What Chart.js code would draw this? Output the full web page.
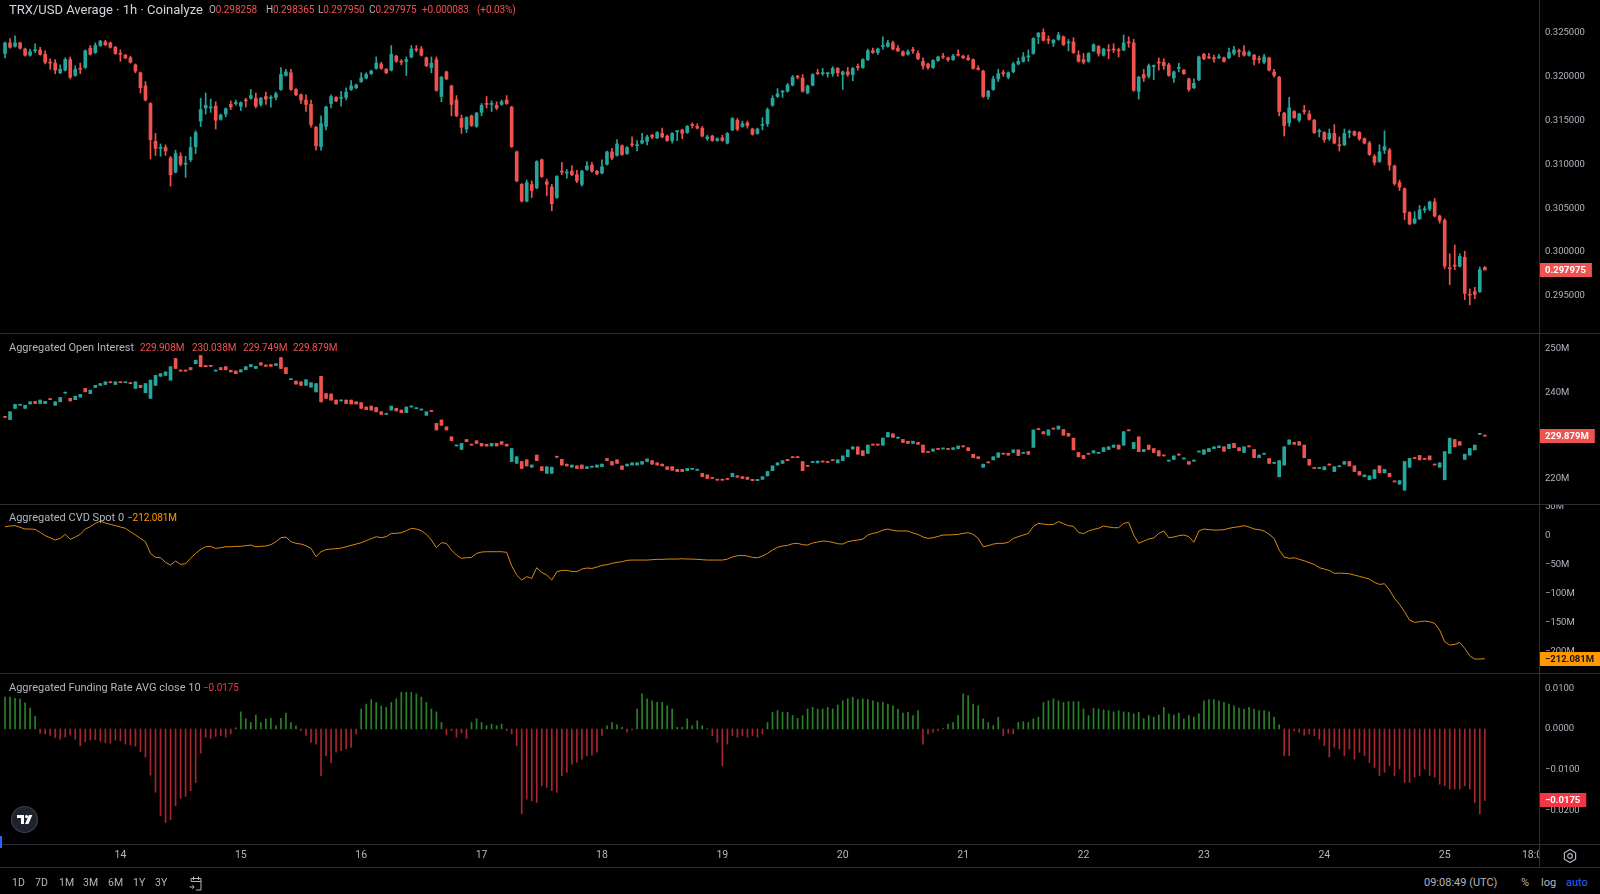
<!DOCTYPE html>
<html>
<head>
<meta charset="utf-8">
<script src="https://cdn.jsdelivr.net/npm/chart.js@4.4.1/dist/chart.umd.min.js"></script>
<style>
html,body{margin:0;padding:0;background:#000;}
#root{position:relative;width:1600px;height:894px;background:#000;overflow:hidden;font-family:Roboto,"Liberation Sans",sans-serif;}
.pane{position:absolute;left:0;width:1600px;}
.pane canvas{display:block;}
.hl{position:absolute;left:0;width:1600px;height:1px;background:#2b2e36;z-index:5;}
.vl{position:absolute;top:0;left:1539px;width:1px;height:867px;background:#2b2e36;z-index:5;}
.t{position:absolute;white-space:nowrap;transform:translateY(-50%);z-index:6;line-height:1.2;}
.n{font-size:10px;letter-spacing:-0.1px;}
.g{color:#b2b5be;}
.r{color:#ef5350;}
</style>
</head>
<body>
<div id="root">
  <div class="pane" style="top:0;height:334px"><canvas id="cPrice"></canvas></div>
  <div class="pane" style="top:334px;height:171px"><canvas id="cOI"></canvas></div>
  <div class="pane" style="top:505px;height:169px"><canvas id="cCVD"></canvas></div>
  <div class="pane" style="top:674px;height:193px"><canvas id="cFund"></canvas></div>

  <div class="hl" style="top:333px"></div>
  <div class="hl" style="top:504px"></div>
  <div class="hl" style="top:673px"></div>
  <div class="hl" style="top:844px"></div>
  <div class="hl" style="top:867px"></div>
  <div class="vl"></div>

  <!-- header of price pane -->
  <div class="t" style="left:9px;top:10px;font-size:13px;color:#d1d4dc">TRX/USD Average · 1h · Coinalyze</div>
  <div class="t n" style="left:209px;top:10px"><span class="g">O</span><span class="r">0.298258</span></div>
  <div class="t n" style="left:266px;top:10px"><span class="g">H</span><span class="r">0.298365</span></div>
  <div class="t n" style="left:318px;top:10px"><span class="g">L</span><span class="r">0.297950</span></div>
  <div class="t n" style="left:369px;top:10px"><span class="g">C</span><span class="r">0.297975</span></div>
  <div class="t n r" style="left:422px;top:10px">+0.000083</div>
  <div class="t n r" style="left:477px;top:10px">(+0.03%)</div>

  <div class="t g" style="left:9px;top:348px;font-size:11px">Aggregated Open Interest</div>
  <div class="t n r" style="left:140px;top:348px">229.908M</div>
  <div class="t n r" style="left:192px;top:348px">230.038M</div>
  <div class="t n r" style="left:243px;top:348px">229.749M</div>
  <div class="t n r" style="left:293px;top:348px">229.879M</div>

  <div class="t g" style="left:9px;top:518px;font-size:11px">Aggregated CVD Spot 0</div>
  <div class="t n" style="left:127px;top:518px;color:#ff9800">−212.081M</div>

  <div class="t g" style="left:9px;top:688px;font-size:11px">Aggregated Funding Rate AVG close 10</div>
  <div class="t n" style="left:203px;top:688px;color:#f23645">−0.0175</div>

  <!-- TradingView badge -->
  <svg style="position:absolute;left:10px;top:805px;z-index:6" width="29" height="29" viewBox="0 0 29 29">
    <circle cx="14.5" cy="14.5" r="13" fill="#1e222d" stroke="#3a3e48" stroke-width="1.2"/>
    <path d="M7 10 h7 v9 h-3 v-6 h-4 z" fill="#fff"/>
    <circle cx="16.6" cy="11.6" r="1.6" fill="#fff"/>
    <path d="M19 10 h3.4 l-4 9 h-3.4 z" fill="#fff"/>
  </svg>
  <div style="position:absolute;left:0;top:836px;width:2px;height:12px;background:#2962ff;z-index:6"></div>

  <!-- axis corner with settings icon (covers overflow of last time label) -->
  <div style="position:absolute;left:1540px;top:845px;width:60px;height:22px;background:#000;z-index:7"></div>
  <svg style="position:absolute;left:1562px;top:848px;z-index:8" width="16" height="16" viewBox="0 0 16 16">
    <path d="M8 1.5 L13.6 4.75 L13.6 11.25 L8 14.5 L2.4 11.25 L2.4 4.75 Z" fill="none" stroke="#b2b5be" stroke-width="1.2"/>
    <circle cx="8" cy="8" r="2.3" fill="none" stroke="#b2b5be" stroke-width="1.2"/>
  </svg>

  <!-- bottom toolbar -->
  <div class="t g" style="left:12px;top:883px;font-size:10.5px">1D</div>
  <div class="t g" style="left:35px;top:883px;font-size:10.5px">7D</div>
  <div class="t g" style="left:59px;top:883px;font-size:10.5px">1M</div>
  <div class="t g" style="left:83px;top:883px;font-size:10.5px">3M</div>
  <div class="t g" style="left:108px;top:883px;font-size:10.5px">6M</div>
  <div class="t g" style="left:133px;top:883px;font-size:10.5px">1Y</div>
  <div class="t g" style="left:155px;top:883px;font-size:10.5px">3Y</div>
  <svg style="position:absolute;left:188px;top:875px;z-index:6" width="16" height="17" viewBox="0 0 16 17">
    <path d="M3 6 V3.5 H13 V15 H8" fill="none" stroke="#b2b5be" stroke-width="1"/>
    <path d="M3 6.5 H13" stroke="#b2b5be" stroke-width="1"/>
    <path d="M5.5 1.5 V5 M10.5 1.5 V5" stroke="#b2b5be" stroke-width="1"/>
    <path d="M1.5 12 H6 M4.3 10.2 L6.2 12 L4.3 13.8" fill="none" stroke="#b2b5be" stroke-width="1"/>
  </svg>
  <div class="t g" style="left:1424px;top:883px;font-size:11px">09:08:49 (UTC)</div>
  <div class="t g" style="left:1521px;top:883px;font-size:11px">%</div>
  <div class="t g" style="left:1541px;top:883px;font-size:11px">log</div>
  <div class="t" style="left:1566px;top:883px;font-size:11px;color:#2962ff">auto</div>
</div>

<script>
// ---------- time axis (hours counted from day 13, 00:00) ----------
const FIRST_HOUR = 1;                 // first candle: 13th 01:00
const X_MAX_HOUR = 306.8;
const dayTickHours  = [24,48,72,96,120,144,168,192,216,240,264,288,306];
const dayTickLabels = ['14','15','16','17','18','19','20','21','22','23','24','25','18:00'];

// ---------- TRX/USD 1h candles ----------
const priceOpen = [
.3226,.3238,.3234,.3238,.3231,.3224,.3229,.3230,.3225,.3216,
.3215,.3204,.3207,.3219,.3201,.3209,.3210,.3232,.3227,.3235,
.3239,.3238,.3233,.3226,.3224,.3221,.3213,.3204,.3189,.3169,
.3126,.3118,.3119,.3107,.3091,.3109,.3100,.3105,.3120,.3149,
.3164,.3164,.3166,.3151,.3157,.3168,.3169,.3166,.3173,.3175,
.3175,.3168,.3177,.3175,.3176,.3185,.3201,.3204,.3185,.3179,
.3173,.3168,.3142,.3120,.3143,.3169,.3176,.3175,.3176,.3185,
.3187,.3194,.3198,.3203,.3209,.3214,.3208,.3207,.3223,.3217,
.3217,.3222,.3231,.3231,.3221,.3210,.3219,.3177,.3205,.3189,
.3173,.3152,.3140,.3155,.3143,.3159,.3169,.3168,.3167,.3168,
.3173,.3165,.3114,.3077,.3058,.3077,.3073,.3105,.3080,.3074,
.3062,.3092,.3090,.3092,.3088,.3077,.3094,.3099,.3092,.3090,
.3100,.3114,.3110,.3121,.3112,.3123,.3121,.3124,.3126,.3133,
.3130,.3135,.3132,.3127,.3137,.3139,.3136,.3145,.3143,.3141,
.3129,.3132,.3127,.3130,.3124,.3139,.3150,.3143,.3147,.3140,
.3135,.3144,.3146,.3167,.3177,.3182,.3183,.3190,.3200,.3198,
.3181,.3190,.3204,.3203,.3203,.3203,.3209,.3202,.3205,.3202,
.3211,.3210,.3219,.3229,.3227,.3234,.3234,.3238,.3232,.3228,
.3225,.3230,.3226,.3217,.3214,.3210,.3218,.3223,.3221,.3219,
.3225,.3223,.3221,.3219,.3209,.3206,.3177,.3185,.3197,.3204,
.3199,.3205,.3214,.3217,.3222,.3226,.3245,.3250,.3242,.3238,
.3242,.3245,.3238,.3239,.3224,.3219,.3217,.3229,.3234,.3224,
.3230,.3231,.3230,.3230,.3239,.3238,.3183,.3202,.3200,.3211,
.3216,.3216,.3213,.3198,.3209,.3207,.3197,.3187,.3196,.3225,
.3222,.3221,.3221,.3221,.3221,.3226,.3229,.3228,.3224,.3224,
.3220,.3216,.3221,.3205,.3199,.3158,.3147,.3160,.3150,.3161,
.3157,.3150,.3137,.3136,.3129,.3135,.3122,.3122,.3136,.3137,
.3136,.3129,.3124,.3109,.3103,.3116,.3116,.3098,.3079,.3072,
.3045,.3033,.3038,.3048,.3049,.3057,.3041,.3036,.2982,.2985,
.2984,.2994,.2952,.2955,.2955,.298258];
const priceClose = [
.3238,.3233,.3238,.3232,.3224,.3228,.3229,.3225,.3216,.3215,
.3207,.3208,.3219,.3199,.3208,.3208,.3229,.3225,.3235,.3240,
.3236,.3233,.3226,.3225,.3221,.3216,.3206,.3187,.3173,.3128,
.3118,.3118,.3115,.3088,.3112,.3100,.3100,.3119,.3136,.3162,
.3167,.3164,.3150,.3156,.3163,.3165,.3169,.3170,.3172,.3178,
.3166,.3175,.3174,.3175,.3180,.3202,.3205,.3185,.3179,.3173,
.3168,.3145,.3121,.3146,.3165,.3177,.3172,.3175,.3182,.3189,
.3190,.3198,.3202,.3206,.3215,.3209,.3204,.3225,.3217,.3216,
.3219,.3231,.3230,.3224,.3212,.3215,.3184,.3199,.3197,.3168,
.3155,.3142,.3153,.3144,.3158,.3167,.3168,.3168,.3164,.3171,
.3169,.3120,.3081,.3058,.3079,.3070,.3103,.3086,.3077,.3055,
.3086,.3091,.3090,.3088,.3081,.3092,.3098,.3092,.3089,.3097,
.3114,.3107,.3123,.3111,.3119,.3122,.3121,.3127,.3131,.3131,
.3136,.3131,.3127,.3135,.3137,.3135,.3143,.3144,.3141,.3132,
.3131,.3127,.3129,.3127,.3135,.3152,.3140,.3146,.3144,.3134,
.3140,.3144,.3162,.3175,.3180,.3182,.3190,.3199,.3199,.3183,
.3189,.3202,.3203,.3203,.3203,.3209,.3204,.3205,.3202,.3209,
.3210,.3219,.3229,.3227,.3231,.3234,.3238,.3231,.3229,.3224,
.3228,.3229,.3220,.3212,.3210,.3218,.3222,.3222,.3219,.3223,
.3224,.3221,.3219,.3209,.3208,.3177,.3183,.3197,.3203,.3203,
.3204,.3214,.3217,.3222,.3222,.3243,.3249,.3241,.3241,.3241,
.3247,.3236,.3238,.3227,.3217,.3216,.3226,.3236,.3226,.3231,
.3229,.3230,.3229,.3238,.3238,.3184,.3199,.3198,.3212,.3211,
.3215,.3212,.3201,.3205,.3209,.3203,.3185,.3192,.3222,.3220,
.3221,.3220,.3222,.3217,.3227,.3230,.3228,.3224,.3227,.3219,
.3219,.3222,.3207,.3201,.3160,.3144,.3164,.3153,.3157,.3160,
.3151,.3136,.3137,.3128,.3135,.3124,.3121,.3135,.3136,.3133,
.3129,.3124,.3111,.3102,.3114,.3120,.3099,.3078,.3074,.3045,
.3032,.3038,.3048,.3048,.3057,.3041,.3036,.2984,.2981,.2984,
.2995,.2953,.2951,.2952,.2980,.297975];
// wick length above / below the body, in units of 0.0001
const WICK_UNIT = 0.0001;
const priceWickUp = [
1,5,8,1,1,3,8,3,4,4, 4,5,2,3,4,6,1,3,3,1, 2,1,1,4,1,2,1,1,5,1, 9,5,3,2,4,4,9,12,2,13,
14,10,5,1,1,4,4,1,2,7, 6,1,5,3,2,8,3,4,1,1, 6,5,1,9,1,2,1,8,5,6, 1,6,2,1,7,2,1,10,1,2,
3,4,4,3,1,7,3,1,1,1, 5,4,1,1,1,2,8,4,4,2, 5,1,1,1,3,4,1,1,3,3, 1,10,4,6,5,1,5,3,1,8,
1,4,5,1,1,8,6,8,2,1, 1,6,1,1,1,1,1,2,3,2, 2,1,1,3,1,1,2,3,2,1, 1,9,2,3,6,2,2,2,1,4,
1,1,4,6,1,2,1,1,5,1, 3,1,2,3,1,11,3,2,3,1, 2,3,3,4,1,1,1,3,1,2, 5,1,3,1,3,1,1,3,5,3,
1,2,4,5,8,1,1,4,4,1, 3,1,4,5,5,7,1,1,1,1, 6,6,2,9,6,4,1,6,2,2, 5,4,2,1,6,1,1,5,1,1,
4,3,3,1,5,4,2,7,2,1, 3,3,1,3,1,1,12,1,1,6, 4,1,3,1,5,10,9,5,3,1, 1,1,2,2,8,18,2,1,3,1,
1,8,5,4,1,4,1,2,16,23, 3,7,6,5,3,1.07];
const priceWickDown = [
5,1,1,1,1,1,2,1,2,7, 4,1,1,2,1,5,1,1,1,1, 1,1,1,8,1,1,2,6,1,22, 8,9,5,13,1,2,15,2,8,6,
7,5,10,1,3,3,2,5,7,1, 2,2,6,10,3,1,1,1,1,4, 8,3,5,4,4,5,1,9,3,1, 1,1,1,1,1,1,1,1,1,3,
16,1,2,1,1,6,1,6,1,13, 1,7,4,1,1,4,4,8,2,1, 1,1,1,1,1,8,1,1,13,8, 1,3,6,1,2,2,1,1,1,1,
1,2,1,1,1,2,6,1,4,2, 1,1,1,3,10,6,1,3,1,1, 2,1,1,1,1,1,2,1,3,1, 1,5,3,1,1,6,1,1,2,1,
1,1,1,2,4,3,4,17,2,7, 3,1,1,1,2,3,1,1,1,1, 1,3,1,4,2,1,1,2,2,1, 1,1,1,1,1,1,3,1,3,3,
2,1,1,1,5,1,8,1,4,4, 1,1,9,1,1,2,1,1,3,1, 9,3,7,1,5,1,9,4,2,15, 8,4,1,5,4,1,2,1,1,1,
1,4,1,1,1,2,6,1,1,6, 4,2,1,2,5,12,4,1,2,3, 1,1,6,3,2,1,6,1,6,1, 2,1,1,3,1,4,6,2,4,8,
1,1,1,3,2,1,3,3,18,4, 1,7,11,5,1,0.25];
const priceTicks = [0.295,0.300,0.305,0.310,0.315,0.320,0.325];

// ---------- Aggregated open interest (M), 1h candles ----------
const oiOpen = [
234.3,233.7,236.3,237.0,236.3,237.3,237.9,237.4,237.4,238.4,
237.0,237.8,239.8,238.6,238.3,238.9,240.9,239.7,241.1,241.6,
241.8,242.3,241.8,242.3,242.2,242.1,240.9,241.6,239.9,238.6,
241.6,243.7,243.9,242.8,247.8,245.0,245.0,245.7,246.6,248.5,
246.2,246.1,244.9,245.7,245.9,245.1,244.9,244.7,245.2,245.9,
245.5,246.8,246.3,246.4,246.2,248.0,245.7,242.9,242.6,242.4,
241.6,241.2,240.1,243.7,239.7,239.6,238.2,238.0,238.2,238.2,
237.8,237.6,236.6,236.8,236.5,235.5,234.9,235.9,236.3,235.9,
235.3,236.6,236.2,235.9,234.7,235.7,232.8,233.6,232.0,229.7,
227.6,226.8,229.1,227.9,228.8,228.2,228.0,227.6,228.2,228.6,
228.0,224.0,223.6,224.0,224.4,222.7,225.5,222.8,221.3,221.3,
225.1,224.5,223.4,222.7,223.0,223.2,222.4,222.7,222.7,222.8,
224.7,224.0,224.4,223.0,223.0,223.2,223.2,223.4,224.0,224.2,
223.7,223.4,222.8,222.8,222.2,222.2,221.9,222.2,222.0,221.3,
220.9,220.2,219.8,219.8,220.0,220.5,220.7,220.5,220.4,219.9,
219.6,219.9,220.7,221.9,223.2,223.6,224.5,225.0,225.0,224.0,
223.0,223.8,223.7,224.0,223.9,224.3,223.7,224.2,225.1,226.9,
227.4,226.5,225.9,227.9,227.9,227.8,229.7,230.4,229.4,229.1,
228.7,228.2,228.4,227.8,226.2,226.4,226.9,226.9,226.9,226.8,
227.0,227.5,227.2,225.7,225.1,222.7,223.8,224.4,225.0,225.8,
225.9,226.1,226.7,225.9,226.3,227.3,231.5,230.9,230.1,231.6,
231.5,231.4,230.5,229.4,226.1,225.4,225.8,226.0,225.9,226.3,
226.8,227.3,227.8,227.8,231.2,227.0,229.7,226.3,227.8,227.0,
226.5,225.4,224.1,224.5,225.6,224.6,224.0,224.1,226.2,225.7,
226.3,227.0,227.2,227.4,227.0,228.2,227.2,226.1,227.5,226.8,
224.9,225.7,224.7,223.6,220.5,223.2,228.0,228.4,228.6,227.8,
224.5,222.5,222.4,222.1,223.3,221.7,222.8,223.4,224.0,223.0,
221.7,220.5,219.8,220.1,223.0,221.4,221.3,219.4,218.8,217.4,
222.7,224.8,225.4,224.6,225.3,223.3,222.7,219.8,225.9,229.1,
228.6,224.5,225.5,226.7,230.3,229.908];
const oiClose = [
234.2,235.5,237.2,237.0,237.0,237.8,237.4,238.2,237.9,238.3,
237.8,238.8,239.9,238.0,239.1,239.5,240.1,240.5,241.6,242.0,
242.4,242.2,242.4,242.2,242.2,242.0,242.4,241.1,242.0,242.8,
243.9,244.3,244.7,245.9,245.5,244.9,244.9,245.2,247.4,245.9,
245.9,246.0,244.9,245.2,245.2,244.7,244.3,245.2,245.9,246.4,
246.0,246.3,246.0,246.0,246.6,245.5,244.3,242.9,241.9,241.6,
242.9,242.2,242.0,237.8,238.6,238.2,237.3,238.0,237.4,237.3,
237.3,236.3,236.0,235.9,235.5,234.9,235.0,236.8,235.7,235.3,
236.6,236.7,236.3,235.9,235.5,235.6,231.3,232.4,231.3,228.8,
227.6,228.2,228.6,227.8,228.2,227.6,227.6,228.2,227.6,228.0,
227.6,227.0,225.1,222.4,223.0,223.2,224.2,221.9,222.8,222.7,
225.0,223.2,223.0,223.2,222.4,222.4,222.8,222.7,223.2,223.4,
224.2,223.2,223.6,222.2,223.4,223.7,223.7,224.0,224.6,223.4,
223.2,223.0,222.2,222.0,221.7,221.7,222.4,222.2,222.1,220.5,
220.1,220.1,219.7,219.7,219.9,221.3,220.4,220.1,219.9,219.6,
219.9,220.5,221.7,223.0,223.7,224.2,224.2,224.9,224.9,221.9,
222.9,223.9,224.1,223.9,223.8,224.2,224.4,225.3,226.7,227.4,
225.7,225.4,227.8,227.8,227.8,229.4,230.7,229.6,229.5,228.4,
228.2,228.7,228.0,226.1,226.1,226.9,226.8,227.0,226.8,227.2,
227.6,227.4,226.5,224.9,224.7,223.4,223.7,225.1,226.0,225.7,
225.5,226.7,225.4,226.0,225.7,231.3,231.4,230.4,231.3,231.5,
232.2,230.1,229.9,226.7,225.1,224.7,225.7,226.5,226.0,227.2,
227.4,227.8,226.9,230.9,231.1,228.4,226.3,226.8,226.8,226.1,
225.3,225.3,224.2,225.3,225.5,224.7,223.4,224.2,226.3,226.7,
227.0,227.4,227.6,226.4,228.0,227.2,226.5,227.4,227.4,224.9,
225.5,225.8,223.6,223.7,224.2,227.4,229.0,228.0,227.8,224.9,
223.2,222.4,222.5,222.8,223.2,222.8,222.9,224.0,223.0,221.7,
220.9,220.9,220.7,222.1,221.4,222.2,220.5,219.3,219.6,224.0,
224.7,224.7,224.4,224.5,224.4,223.2,223.7,226.3,229.4,227.4,
227.8,225.7,227.0,227.8,230.4,229.879];
const oiTicks = [220,230,240,250];

// ---------- Aggregated CVD spot (M) ----------
const cvdValues = [
15.5,16.7,17.3,14.4,11.5,11.5,10.9,5.8,0,-3.5,
-7.5,-4.6,2.3,-6.3,-2.3,2.3,11.5,15.5,21.3,25.3,
21.9,19.5,17.3,15,12.7,6.9,1.2,-4.6,-10.4,-30.5,
-37.4,-38,-46,-50.6,-43.7,-49.5,-48.3,-39.1,-30.5,-23.6,
-19,-18.4,-21.9,-20.7,-19,-19,-18.4,-18.4,-17.3,-16.1,
-19,-18.4,-17.8,-15.5,-10.4,-3.5,-2.3,-10.4,-13.2,-14.4,
-17.3,-21.9,-36.2,-27.6,-24.1,-23,-22.4,-21.3,-19,-16.7,
-14.4,-12.1,-8.6,-5.2,-1.7,-3.5,-1.7,4,4,5.2,
8.6,12.7,11.5,8.6,2.3,-7.5,-20.7,-12.1,-13.2,-24.7,
-33.4,-39.1,-38,-37.4,-30.5,-28.2,-27.6,-27.6,-27.6,-27.6,
-28.7,-51.8,-67.9,-76.5,-70.7,-73.6,-55.2,-63.3,-67.9,-76.5,
-62.1,-59.8,-59.8,-61.5,-62.1,-57.5,-55.8,-56.4,-54.1,-51.2,
-50,-47.7,-46,-44.9,-42.5,-42,-42,-42,-42,-41.4,
-40.8,-40.8,-40.3,-40.3,-40.3,-39.7,-40.3,-40.3,-40.8,-41.4,
-42,-42,-42,-42,-40.3,-36.8,-34.5,-33.9,-35.1,-37.4,
-38,-35.1,-30.5,-24.7,-20.1,-17.8,-16.7,-13.8,-13.2,-15.5,
-16.1,-12.6,-10.9,-9.2,-9.8,-11.5,-13.8,-14.4,-10.4,-8.6,
-7.5,-5.8,1.2,4,5.8,9.8,11.5,9.2,8.1,8.1,
8.1,4.6,2.3,-2.3,-4.6,-3.5,-1.2,1.2,1.2,1.7,
2.3,4,5.2,2.3,-4.6,-19,-17.3,-14.4,-13.2,-13.2,
-11.5,-4.6,-1.7,1.2,4,16.1,21.3,20.1,19,19.5,
24.2,20.7,17.3,16.1,5.8,3.5,8.1,10.9,12.7,16.7,
15,13.8,13.8,21.3,23,1.2,-13.2,-9.2,-5.8,-4,
4,8.1,-3.5,-2.3,0,1.2,-1.7,-11.5,8.1,11.5,
10.4,9.8,9.8,10.4,12.7,14.4,15.5,17.3,15,11.5,
10.4,8.1,2.3,-4.6,-24.7,-36.8,-39.1,-38,-40.8,-43.1,
-46.6,-49.5,-55.2,-57.5,-59.8,-65,-64.4,-65,-65.6,-67.9,
-70.1,-72.4,-74.8,-80.5,-84,-82.8,-93.7,-108.1,-118.5,-131.1,
-145.5,-149.5,-148.3,-147.2,-148.3,-151.2,-162.7,-182.9,-188.6,-187.4,
-184,-194.4,-207,-212.8,-212.6,-212.081];
const cvdTicks = [50,0,-50,-100,-150,-200];

// ---------- Aggregated funding rate ----------
const fundingValues = [
.0078,.0078,.0075,.0074,.0064,.0051,.0031,-.0010,-.0012,-.0016,
-.0021,-.0025,-.0020,-.0015,-.0025,-.0041,-.0031,-.0027,-.0026,-.0030,
-.0034,-.0035,-.0027,-.0029,-.0037,-.0039,-.0042,-.0056,-.0069,-.0113,
-.0155,-.0212,-.0229,-.0222,-.0188,-.0170,-.0165,-.0151,-.0131,-.0059,
-.0020,-.0023,-.0018,-.0016,-.0020,-.0012,.0003,.0042,.0025,.0016,
.0034,.0016,.0025,.0026,.0008,.0026,.0039,.0016,.0008,-.0004,
-.0016,-.0033,-.0037,-.0114,-.0065,-.0083,-.0057,-.0053,-.0049,-.0045,
-.0012,.0049,.0061,.0072,.0065,.0056,.0053,.0065,.0074,.0090,
.0090,.0090,.0086,.0078,.0065,.0049,.0042,.0016,-.0015,-.0004,
-.0020,-.0010,-.0023,.0016,.0025,.0016,.0008,.0012,.0008,.0012,
-.0004,-.0012,-.0041,-.0208,-.0172,-.0176,-.0180,-.0139,-.0143,-.0151,
-.0155,-.0114,-.0106,-.0086,-.0082,-.0074,-.0065,-.0064,-.0057,-.0016,
.0008,.0016,.0010,.0004,-.0008,-.0002,.0049,.0086,.0074,.0069,
.0065,.0065,.0057,.0049,.0004,.0004,.0025,.0008,.0020,.0008,
.0001,-.0016,-.0033,-.0090,-.0037,-.0016,-.0020,-.0016,-.0020,-.0016,
-.0020,-.0012,.0016,.0041,.0045,.0041,.0041,.0033,.0026,.0033,
.0049,.0053,.0049,.0049,.0053,.0049,.0059,.0069,.0074,.0078,
.0072,.0074,.0072,.0069,.0065,.0065,.0061,.0057,.0049,.0039,
.0041,.0033,.0045,-.0037,-.0012,-.0008,-.0004,.0001,.0012,.0016,
.0033,.0086,.0082,.0061,.0057,.0025,.0016,.0008,.0029,-.0016,
-.0010,-.0012,.0016,.0018,.0016,.0025,.0029,.0065,.0069,.0074,
.0069,.0065,.0067,.0067,.0067,.0049,.0033,.0051,.0049,.0047,
.0045,.0042,.0045,.0042,.0041,.0037,.0041,.0025,.0033,.0029,
.0034,.0053,.0037,.0034,.0039,.0025,.0033,.0029,.0037,.0069,
.0072,.0072,.0069,.0065,.0061,.0057,.0051,.0049,.0053,.0049,
.0045,.0045,.0042,.0029,.0010,-.0065,-.0065,-.0004,-.0008,-.0015,
-.0012,-.0016,-.0025,-.0041,-.0069,-.0045,-.0049,-.0065,-.0049,-.0074,
-.0057,-.0065,-.0082,-.0094,-.0114,-.0106,-.0090,-.0114,-.0098,-.0131,
-.0131,-.0118,-.0114,-.0098,-.0114,-.0118,-.0135,-.0139,-.0147,-.0147,
-.0147,-.0139,-.0147,-.0180,-.0208,-.0175];
const fundingTicks = [0.01,0,-0.01,-0.02];

// ---------- styles ----------
const UP = '#26a69a', DOWN = '#ef5350';
const AXIS_TXT = '#b2b5be';
const FONT = 'Roboto, "Liberation Sans", sans-serif';
Chart.defaults.font.family = FONT;
const minus = s => s.replace('-', '\u2212');

function baseOptions(yCfg, showX){
  const x = {type:'linear', min:0, max:X_MAX_HOUR, display:showX, offset:false,
     grid:{display:false, drawTicks:false}, border:{display:false}};
  if (showX) {
    Object.assign(x, {
      afterBuildTicks:s=>{ s.ticks = dayTickHours.map(v=>({value:v})); },
      afterFit:s=>{ s.height = 23; s.paddingLeft = 0; s.paddingRight = 0; },
      ticks:{callback:(v,i)=>dayTickLabels[i], color:AXIS_TXT, font:{size:10.5},
             maxRotation:0, autoSkip:false, padding:5}
    });
  }
  return {
    responsive:true, maintainAspectRatio:false, animation:false, events:[],
    layout:{padding:0},
    plugins:{legend:{display:false}, tooltip:{enabled:false}},
    scales:{
      x,
      y:Object.assign({position:'right', grid:{display:false, drawTicks:false}, border:{display:false},
         afterFit:s=>{ s.width = 61; s.paddingTop = 0; s.paddingBottom = 0; }}, yCfg)
    }
  };
}
function yAxis(min, max, ticks, fmt){
  return {min, max,
    afterBuildTicks:s=>{ s.ticks = ticks.map(v=>({value:v})); },
    ticks:{callback:v=>fmt(v), color:AXIS_TXT, font:{size:9.5}, padding:6, autoSkip:false}};
}
function lastValuePlugin(value, text, bg, fg){
  return {id:'lastValue', afterDraw(chart){
    const ctx = chart.ctx;
    const y = Math.round(chart.scales.y.getPixelForValue(value));
    const x0 = chart.chartArea.right;
    ctx.save();
    ctx.font = 'bold 9.5px ' + FONT;
    const w = ctx.measureText(text).width + 12;
    ctx.fillStyle = bg; ctx.fillRect(x0, y - 7, w, 14);
    ctx.fillStyle = fg; ctx.textBaseline = 'middle'; ctx.textAlign = 'left';
    ctx.fillText(text, x0 + 6, y + 0.5);
    ctx.restore();
  }};
}
function candleDatasets(open, close, wickUp, wickDown, unit){
  const colors = close.map((c,i)=> c >= open[i] ? UP : DOWN);
  const bodies = open.map((o,i)=>({x:FIRST_HOUR+i, y:[o, close[i]]}));
  const wicks = open.map((o,i)=>{
    const hi = Math.max(o, close[i]) + (wickUp ? wickUp[i]*unit : 0);
    const lo = Math.min(o, close[i]) - (wickDown ? wickDown[i]*unit : 0);
    return {x:FIRST_HOUR+i, y:[lo, hi]};
  });
  return [
    {type:'bar', data:bodies, backgroundColor:colors, borderWidth:0, barThickness:3, minBarLength:1, grouped:false},
    {type:'bar', data:wicks, backgroundColor:colors, borderWidth:0, barThickness:1, minBarLength:1, grouped:false}
  ];
}

// ---------- price ----------
const lastClose = priceClose[priceClose.length-1];
new Chart(document.getElementById('cPrice'), {
  type:'bar',
  data:{datasets:candleDatasets(priceOpen, priceClose, priceWickUp, priceWickDown, WICK_UNIT)},
  options:baseOptions(yAxis(0.29068, 0.32868, priceTicks, v=>v.toFixed(6)), false),
  plugins:[lastValuePlugin(lastClose, lastClose.toFixed(6), '#ef5350', '#ffffff')]
});

// ---------- open interest ----------
const lastOI = oiClose[oiClose.length-1];
new Chart(document.getElementById('cOI'), {
  type:'bar',
  data:{datasets:candleDatasets(oiOpen, oiClose, null, null, 1)},
  options:baseOptions(yAxis(213.97, 253.46, oiTicks, v=>v+'M'), false),
  plugins:[lastValuePlugin(lastOI, lastOI.toFixed(3)+'M', '#ef5350', '#ffffff')]
});

// ---------- CVD ----------
const lastCVD = cvdValues[cvdValues.length-1];
new Chart(document.getElementById('cCVD'), {
  type:'line',
  data:{datasets:[{data:cvdValues.map((v,i)=>({x:FIRST_HOUR+i, y:v})),
    borderColor:'#d88a0e', borderWidth:1, pointRadius:0, tension:0, fill:false}]},
  options:baseOptions(yAxis(-238.45, 52.93, cvdTicks, v=> v===0 ? '0' : minus(v+'M')), false),
  plugins:[lastValuePlugin(lastCVD, minus(lastCVD.toFixed(3)+'M'), '#ff9800', '#131722')]
});

// ---------- funding ----------
const lastFund = fundingValues[fundingValues.length-1];
new Chart(document.getElementById('cFund'), {
  type:'bar',
  data:{datasets:[{data:fundingValues.map((v,i)=>({x:FIRST_HOUR+i, y:v})),
    backgroundColor:fundingValues.map(v=> v >= 0 ? '#2a8226' : '#a8252d'),
    borderWidth:0, barThickness:1, grouped:false}]},
  options:baseOptions(yAxis(-0.028152, 0.013464, fundingTicks, v=>minus(v.toFixed(4))), true),
  plugins:[lastValuePlugin(lastFund, minus(lastFund.toFixed(4)), '#f23645', '#ffffff')]
});
</script>
</body>
</html>
